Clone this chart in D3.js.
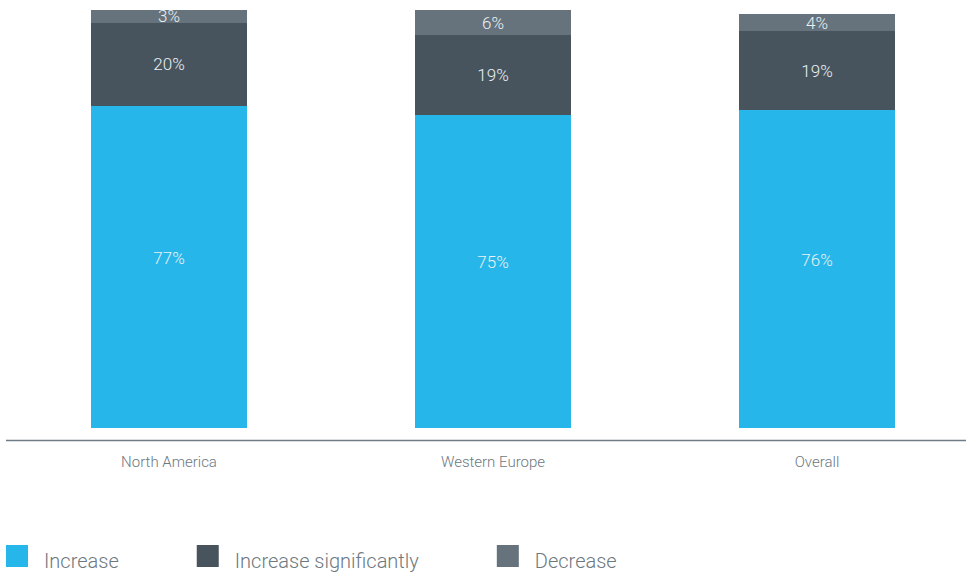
<!DOCTYPE html>
<html>
<head>
<meta charset="utf-8">
<script src="https://cdn.jsdelivr.net/npm/d3@7"></script>
<style>
  html, body { margin: 0; padding: 0; background: #ffffff; }
  svg { display: block; }
</style>
</head>
<body>
<svg id="chart" width="966" height="573"></svg>
<script>
// Regions and the share of respondents in each answer group (%)
const regions = ["North America", "Western Europe", "Overall"];
const increase = [77, 75, 76];
const increaseSignificantly = [20, 19, 19];
const decrease = [3, 6, 4];

const seriesNames = ["Increase", "Increase significantly", "Decrease"];
const seriesColors = ["#26b6e9", "#47545e", "#66737c"];

const rows = regions.map((r, i) => ({
  region: r,
  "Increase": increase[i],
  "Increase significantly": increaseSignificantly[i],
  "Decrease": decrease[i]
}));

const svg = d3.select("#chart");
const sans = "Roboto, 'Helvetica Neue', Arial, sans-serif";

const x = d3.scaleBand()
  .domain(regions)
  .range([7, 979])
  .paddingInner(0.5185)
  .paddingOuter(0.25925);

const y = d3.scaleLinear().domain([0, 100]).range([428, 10]);

const color = d3.scaleOrdinal().domain(seriesNames).range(seriesColors);

const stacked = d3.stack().keys(seriesNames)(rows);

const groups = svg.append("g").selectAll("g")
  .data(stacked)
  .join("g")
  .attr("fill", d => color(d.key));

// Segments snapped to whole pixels so stacked edges meet cleanly
groups.selectAll("rect")
  .data(d => d.map(p => ({ key: d.key, p })))
  .join("rect")
  .attr("x", d => Math.round(x(d.p.data.region)))
  .attr("width", Math.round(x.bandwidth()))
  .attr("y", d => Math.round(y(d.p[1])))
  .attr("height", d => Math.round(y(d.p[0])) - Math.round(y(d.p[1])))
  .attr("shape-rendering", "crispEdges");

// Value labels inside each segment
groups.selectAll("text")
  .data(d => d.map(p => ({ key: d.key, p })))
  .join("text")
  .attr("x", d => x(d.p.data.region) + x.bandwidth() / 2)
  .attr("y", d => {
    const mid = (y(d.p[0]) + y(d.p[1])) / 2;
    return d.key === "Increase" ? mid - 9 : mid;
  })
  .attr("dy", "0.36em")
  .attr("text-anchor", "middle")
  .attr("fill", "#eaf1f5")
  .attr("font-family", sans)
  .attr("font-weight", 300)
  .attr("font-size", "17px")
  .text(d => (d.p[1] - d.p[0]) + "%");

// Baseline axis with category names
const axis = svg.append("g").attr("transform", "translate(0,440.5)");
axis.append("line")
  .attr("x1", 6).attr("x2", 966)
  .attr("stroke", "#707c85").attr("stroke-width", 1.5);

axis.selectAll("text")
  .data(regions)
  .join("text")
  .attr("x", d => x(d) + x.bandwidth() / 2)
  .attr("y", 26)
  .attr("text-anchor", "middle")
  .attr("fill", "#6d7880")
  .attr("font-family", sans)
  .attr("font-weight", 300)
  .attr("font-size", "15px")
  .text(d => d);

// Legend
const legend = svg.append("g").attr("transform", "translate(6,545)");
let lx = 0;
seriesNames.forEach(name => {
  const item = legend.append("g").attr("transform", `translate(${lx},0)`);
  item.append("rect")
    .attr("width", 22).attr("height", 22)
    .attr("fill", color(name));
  const t = item.append("text")
    .attr("x", 38).attr("y", 23)
    .attr("fill", "#6d7880")
    .attr("font-family", sans)
    .attr("font-weight", 300)
    .attr("font-size", "20px")
    .text(name);
  lx += 38 + t.node().getComputedTextLength() + 78;
});
</script>
</body>
</html>
